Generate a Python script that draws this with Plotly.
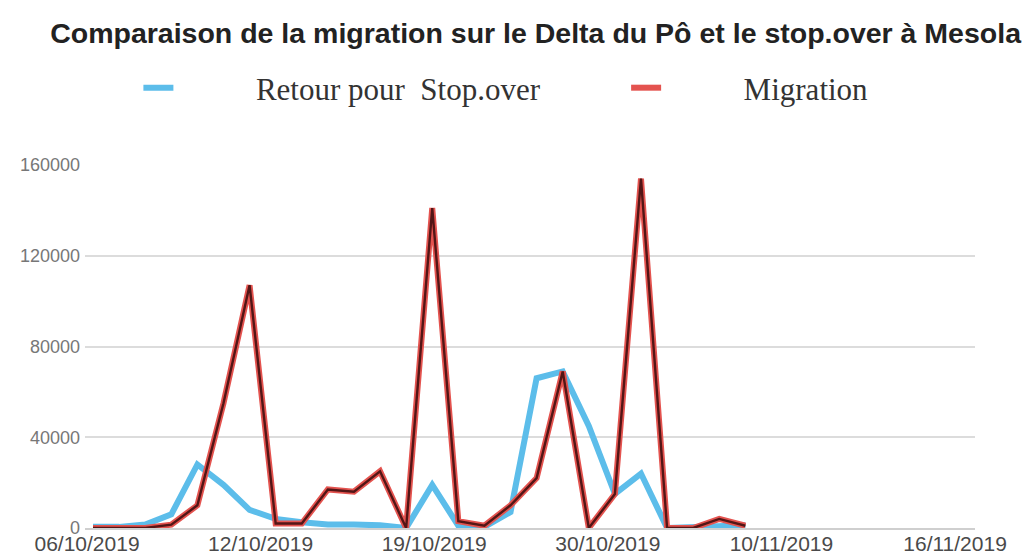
import plotly.graph_objects as go

# ---------------- data ----------------
# categories of the visible date axis (labels shown every 6th category)
axis_dates = ["06/10/2019", "07/10/2019", "08/10/2019", "09/10/2019", "10/10/2019",
              "11/10/2019", "12/10/2019", "13/10/2019", "14/10/2019", "15/10/2019",
              "16/10/2019", "18/10/2019", "19/10/2019", "20/10/2019", "22/10/2019",
              "24/10/2019", "26/10/2019", "28/10/2019", "30/10/2019", "31/10/2019",
              "02/11/2019", "04/11/2019", "06/11/2019", "08/11/2019", "10/11/2019",
              "11/11/2019", "12/11/2019", "13/11/2019", "14/11/2019", "15/11/2019",
              "16/11/2019"]
tick_labels = ["06/10/2019", "12/10/2019", "19/10/2019", "30/10/2019", "10/11/2019", "16/11/2019"]

# observation dates of the two series
obs_dates = ["d01", "d02", "d03", "d04", "d05", "d06", "d07", "d08", "d09", "d10",
             "d11", "d12", "d13", "d14", "d15", "d16", "d17", "d18", "d19", "d20",
             "d21", "d22", "d23", "d24", "d25", "d26"]

migration = [0, 0, 0, 1500, 10000, 55000, 107000, 2000, 2000, 17000,
             16000, 25000, 0, 141000, 3000, 1000, 10000, 22000, 69000, 0,
             15000, 154000, 0, 0, 4000, 1000]

stopover = [500, 500, 1500, 6000, 28000, 19000, 8000, 4000, 2500, 1500,
            1500, 1200, 0, 19000, 1000, 500, 7000, 66000, 69000, 45000,
            15000, 24000, 0, 500, 800, 1200]

y_ticks = [0, 40000, 80000, 120000, 160000]

series_names = ["Retour pour  Stop.over", "Migration"]
legend_gap = "\u00a0" * 10  # visual gap between legend dash and its text

# ---------------- figure ----------------
fig = go.Figure()

# invisible trace registering the label-axis categories
fig.add_trace(go.Scatter(x=axis_dates, y=[None] * len(axis_dates), xaxis="x2", yaxis="y",
                         mode="lines", showlegend=False, hoverinfo="skip"))

fig.add_trace(go.Scatter(x=obs_dates, y=stopover, name=legend_gap + series_names[0],
                         legend="legend", mode="lines",
                         line=dict(color="#5cbdea", width=6)))
fig.add_trace(go.Scatter(x=obs_dates, y=migration, name=legend_gap + series_names[1],
                         legend="legend2", mode="lines",
                         line=dict(color="#e4534f", width=6)))
fig.add_trace(go.Scatter(x=obs_dates, y=migration, showlegend=False,
                         mode="lines", line=dict(color="#521616", width=2.4)))

legend_font = dict(family="Liberation Serif", size=31, color="#333333")

fig.update_layout(
    width=1026, height=554,
    margin=dict(l=85, r=51, t=165, b=26, autoexpand=False),
    paper_bgcolor="white", plot_bgcolor="white",
    title=dict(text="<b>Comparaison de la migration sur le Delta du Pô et le stop.over à Mesola</b>",
               xref="container", x=0.522, xanchor="center",
               yref="container", y=1 - 33 / 554, yanchor="middle",
               font=dict(family="Liberation Sans", size=28.5, color="#222222")),
    legend=dict(orientation="h", x=0.06, xanchor="left", y=1.212, yanchor="middle",
                itemwidth=30, font=legend_font, bgcolor="rgba(0,0,0,0)"),
    legend2=dict(orientation="h", x=0.608, xanchor="left", y=1.212, yanchor="middle",
                 itemwidth=30, font=legend_font, bgcolor="rgba(0,0,0,0)"),
    xaxis=dict(type="category", range=[-0.307, 33.8], showticklabels=False,
               showgrid=False, zeroline=False, showline=True, linecolor="#cfcfcf",
               linewidth=2, ticks=""),
    xaxis2=dict(type="category", overlaying="x", side="bottom", anchor="y",
                range=[-0.069, 30.69], tickmode="array", tickvals=tick_labels,
                ticktext=tick_labels, showgrid=False, zeroline=False, showline=False,
                ticks="", tickangle=0, ticklabelstandoff=1,
                tickfont=dict(family="Liberation Sans", size=21, color="#4a4a4a")),
    yaxis=dict(range=[0, 160000], tickmode="array", tickvals=y_ticks, tickformat="d",
               showgrid=True, gridcolor="#dcdcdc", gridwidth=2, zeroline=False,
               showline=False, ticks="", ticklabelstandoff=4,
               tickfont=dict(family="Liberation Sans", size=18, color="#777777")),
)

fig.write_html("out.html", config={"displayModeBar": False},
               post_script="document.body.style.margin='0';document.body.style.overflow='hidden';")
